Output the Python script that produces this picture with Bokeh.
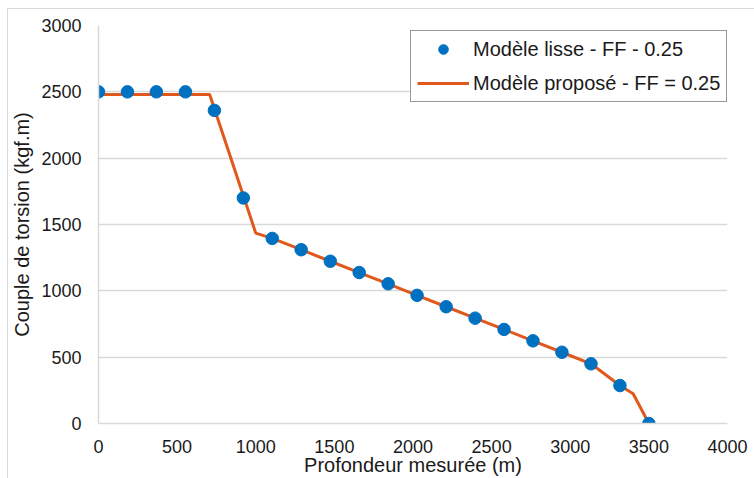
from bokeh.plotting import figure
from bokeh.models import Range1d, Legend, LegendItem, SingleIntervalTicker
from bokeh.embed import file_html
from bokeh.resources import INLINE

# Data
smooth_x = [0, 184, 368, 553, 737, 921, 1105, 1289, 1474, 1658, 1842, 2026,
            2211, 2395, 2579, 2763, 2947, 3132, 3316, 3500]
smooth_y = [2500, 2500, 2500, 2500, 2360, 1700, 1395, 1310, 1223, 1138, 1053, 966,
            880, 794, 709, 623, 537, 450, 286, 0]

model_x = [0, 184, 368, 553, 707, 1000, 1105, 1289, 1474, 1658, 1842, 2026,
           2211, 2395, 2579, 2763, 2947, 3132, 3316, 3400, 3500]
model_y = [2480, 2480, 2480, 2480, 2480, 1435, 1395, 1310, 1223, 1138, 1053, 966,
           880, 794, 709, 623, 537, 450, 286, 224, 0]

label_smooth = "Modèle lisse - FF - 0.25"
label_model = "Modèle proposé - FF = 0.25"
x_title = "Profondeur mesurée (m)"
y_title = "Couple de torsion (kgf.m)"

FONT = "Liberation Sans"
GRID = "#d9d9d9"

p = figure(width=747, height=470, output_backend="svg", toolbar_location=None,
           x_range=Range1d(0, 4000), y_range=Range1d(0, 3000),
           min_border_left=89, min_border_right=28, min_border_top=16,
           min_border_bottom=56, margin=(8, 0, 0, 7))
p.styles = {"border-top": "1px solid #d9d9d9", "border-left": "1px solid #d9d9d9"}
p.outline_line_color = None
p.background_fill_color = "white"
p.border_fill_color = "white"

line_r = p.line(model_x, model_y, line_color="#E0581C", line_width=3)
pts_r = p.scatter(smooth_x, smooth_y, size=12.5, fill_color="#0070C0", line_color="#0070C0")

p.xaxis.ticker = SingleIntervalTicker(interval=500)
p.yaxis.ticker = SingleIntervalTicker(interval=500)
for ax in (p.xaxis[0], p.yaxis[0]):
    ax.axis_line_color = GRID
    ax.axis_line_width = 1.5
    ax.major_tick_line_color = None
    ax.minor_tick_line_color = None
    ax.major_tick_out = 0
    ax.major_tick_in = 0
    ax.major_label_text_font = FONT
    ax.major_label_text_font_size = "18px"
    ax.major_label_text_color = "#1a1a1a"
    ax.axis_label_text_font = FONT
    ax.axis_label_text_font_size = "20px"
    ax.axis_label_text_font_style = "normal"
    ax.axis_label_text_color = "#1a1a1a"

p.xaxis.axis_label = x_title
p.yaxis.axis_label = y_title
p.xaxis.major_label_standoff = 12
p.xaxis.axis_label_standoff = -2
p.yaxis.major_label_standoff = 13
p.yaxis.axis_label_standoff = 5

p.xgrid.grid_line_color = None
p.ygrid.grid_line_color = GRID
p.ygrid.grid_line_width = 1.5

legend = Legend(items=[LegendItem(label=label_smooth, renderers=[pts_r]),
                       LegendItem(label=label_model, renderers=[line_r])],
                location=(312, 321), margin=0, padding=6, spacing=10,
                glyph_width=52, glyph_height=24, label_standoff=4,
                label_text_font=FONT, label_text_font_size="20px",
                label_text_color="#1a1a1a",
                border_line_color="#333333", border_line_width=1.5,
                background_fill_color="white", background_fill_alpha=1)
p.add_layout(legend)

open("out.html", "w").write(file_html(p, INLINE))
